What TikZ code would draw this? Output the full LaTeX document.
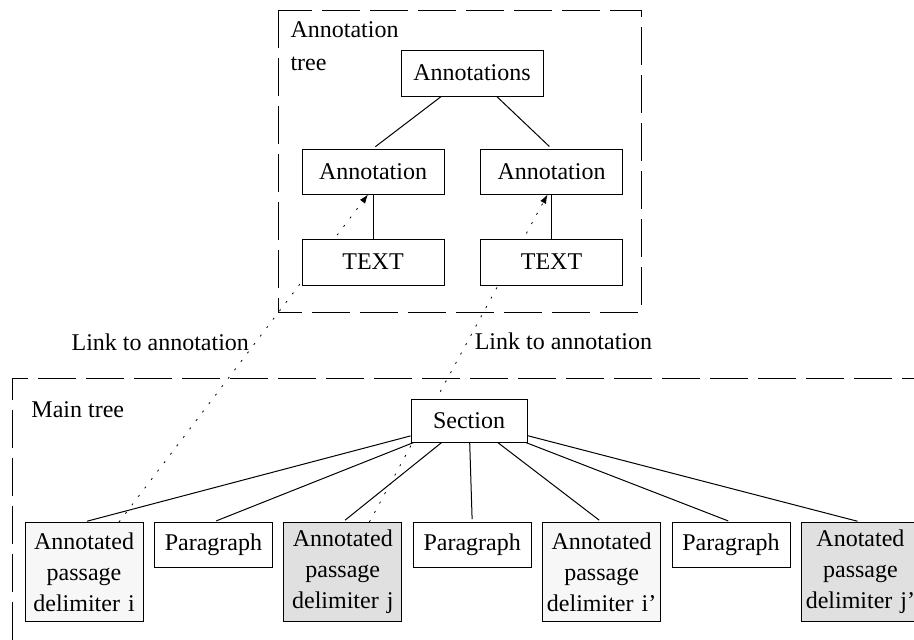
\documentclass[tikz,border=0pt]{standalone}
\usepackage{fontspec}
\setmainfont{Liberation Serif}
\usetikzlibrary{arrows.meta,positioning,backgrounds}

\begin{document}
\begin{tikzpicture}[x=0.5pt,y=-0.5pt]
	\begin{scope}[line width=0.5pt,>={Latex[length=4.5pt,width=3.2pt]},
		font=\fontsize{12}{15.5}\selectfont,
		frame/.style={dash pattern=on 19pt off 5pt},
		annbox/.style={rectangle,draw,fill=white,inner sep=0pt,minimum width=71pt,minimum height=23pt},
		secbox/.style={rectangle,draw,fill=white,inner sep=0pt,minimum width=58pt,minimum height=21.5pt},
		parabox/.style={rectangle,draw,fill=white,inner sep=0pt,minimum width=59pt,minimum height=22.5pt},
		markbox/.style={rectangle,draw,inner sep=0pt,align=center,text width=57pt,minimum width=59pt,minimum height=49.5pt},
		branch/.style={shorten >=1.5pt},
		link/.style={->,dash pattern=on 1pt off 4.3pt}]
		\useasboundingbox (0,0) rectangle (914,639);
		% frames
		\draw [frame] (278,10) rectangle (641,312);
		\draw [frame] (12,640) -- (12,378) -- (915,378);
		\node [anchor=north west, inner sep=0pt, align=left, font=\fontsize{12}{16.5}\selectfont]	(annlabel)	at (290,21)	{Annotation\\tree};
		\node [anchor=base west, inner sep=0pt]	(mainlabel)	at (31,417)	{Main tree};
		% annotation tree
		\node [annbox]		(anns)		at (472,73)		{Annotations};
		\node [annbox, minimum height=22.5pt]	(annL)	at (373,171.5)	{Annotation};
		\node [annbox, minimum height=22.5pt]	(annR)	at (551.5,171.5)	{Annotation};
		\node [annbox]		(textL)		at (373,262)	{TEXT};
		\node [annbox]		(textR)		at (551.5,262)	{TEXT};
		% main tree
		\node [secbox]		(sec)		at (469,420.5)	{Section};
		\node [markbox, fill=black!3, anchor=north]	(delimI)	at (84,522)	{Annotated passage delimiter i};
		\node [parabox, right=5.2pt of delimI.north east, anchor=north west]	(para1)	{Paragraph};
		\node [markbox, fill=black!12, right=5.2pt of para1.north east, anchor=north west]	(delimJ)	{Annotated passage delimiter j};
		\node [parabox, right=5.2pt of delimJ.north east, anchor=north west]	(para2)	{Paragraph};
		\node [markbox, fill=black!3, right=5.2pt of para2.north east, anchor=north west]	(delimI2)	{Annotated passage delimiter i'};
		\node [parabox, right=5.2pt of delimI2.north east, anchor=north west]	(para3)	{Paragraph};
		\node [markbox, fill=black!12, right=5.2pt of para3.north east, anchor=north west]	(delimJ2)	{Anotated passage delimiter j'};
		\path 
		(anns) edge [branch]	(annL.north)
		(anns) edge [branch]	(annR.north)
		(textL) edge			(annL)
		(textR) edge			(annR)
		(sec) edge [branch]		(delimI.north)
		(sec) edge [branch]		(para1.north)
		(sec) edge [branch]		(delimJ.north)
		(sec) edge [branch]		(para2.north)
		(sec) edge [branch]		(delimI2.north)
		(sec) edge [branch]		(para3.north)
		(sec) edge [branch]		(delimJ2.north)
		;
		% links to annotations, behind the boxes
		\begin{scope}[on background layer]
			\draw [link] (delimI.55) -- node [pos=0.55, left] {Link to annotation} ([xshift=-2.5pt]annL.south);
			\draw [link] (delimJ.62) -- node [pos=0.552, right] {Link to annotation} ([xshift=-2pt]annR.south);
		\end{scope}
	\end{scope}
\end{tikzpicture}
\end{document}
